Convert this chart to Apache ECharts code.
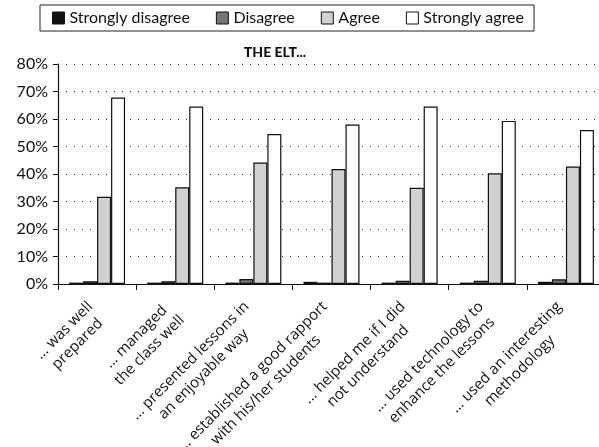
<!DOCTYPE html>
<html>
<head>
<meta charset="utf-8">
<script src="https://cdn.jsdelivr.net/npm/echarts@6/dist/echarts.min.js"></script>
<style>
  html, body { margin: 0; padding: 0; background: #fff; }
  #chart { width: 599px; height: 447px; }
</style>
</head>
<body>
<div id="chart"></div>
<script>
// statements about the ELT
const categories = [
    '... was well\nprepared',
    '... managed\nthe class well',
    '... presented lessons in\nan enjoyable way',
    '... established a good rapport\nwith his/her students',
    '... helped me if I did\nnot understand',
    '... used technology to\nenhance the lessons',
    '... used an interesting\nmethodology'
];

// percentages
const stronglyDisagree = [0.5, 0.5, 0.5, 0.8, 0.5, 0.5, 0.8];
const disagree = [1.0, 1.0, 1.8, 0.5, 1.2, 1.2, 1.7];
const agree = [31.7, 35.2, 44.2, 41.8, 35.0, 40.3, 42.7];
const stronglyAgree = [67.8, 64.5, 54.5, 58.0, 64.5, 59.3, 56.0];

const FONT = 'Lato';
const LABEL_FONT = 'Open Sans';

let myChart = echarts.init(document.getElementById('chart'));

function bar(name, data, color) {
    return {
        name: name,
        type: 'bar',
        data: data,
        barWidth: 14,
        barGap: '0%',
        itemStyle: {
            color: color,
            borderColor: '#111',
            borderWidth: 1.2
        }
    };
}

let option = {
    animation: false,
    backgroundColor: '#fff',
    title: {
        text: 'THE ELT...',
        left: 270,
        textAlign: 'center',
        top: 40,
        textStyle: {
            fontFamily: FONT,
            fontWeight: 900,
            fontSize: 14,
            color: '#111'
        }
    },
    legend: {
        left: 40,
        top: 5,
        padding: [5, 10, 5, 12],
        itemGap: 26,
        itemWidth: 12,
        itemHeight: 12,
        icon: 'rect',
        borderColor: '#222',
        borderWidth: 1,
        textStyle: {
            fontFamily: FONT,
            fontSize: 16,
            color: '#111'
        },
        itemStyle: {
            borderColor: '#111',
            borderWidth: 1
        }
    },
    grid: {
        left: 58,
        right: -6,
        top: 64,
        bottom: 163,
        containLabel: false,
        outerBoundsMode: 'none'
    },
    xAxis: {
        type: 'category',
        data: categories,
        axisLine: { lineStyle: { color: '#111', width: 1.2 } },
        axisTick: { show: true, length: 6, lineStyle: { color: '#111' } },
        axisLabel: {
            rotate: 45,
            interval: 0,
            margin: 27,
            color: '#111',
            formatter: function (v) {
                return v.split('\n').map(function (s) { return '{c|' + s + '}'; }).join('\n');
            },
            rich: {
                c: { align: 'center', fontFamily: LABEL_FONT, fontSize: 15, lineHeight: 19, color: '#111' }
            }
        }
    },
    yAxis: {
        type: 'value',
        min: 0,
        max: 80,
        interval: 10,
        axisLine: { show: true, lineStyle: { color: '#111', width: 1.2 } },
        axisTick: { show: true, length: 5, lineStyle: { color: '#111' } },
        axisLabel: {
            formatter: '{value}%',
            fontFamily: FONT,
            fontSize: 16,
            color: '#111',
            margin: 10
        },
        splitLine: {
            lineStyle: { color: '#333', type: [1, 7], width: 1 }
        }
    },
    series: [
        bar('Strongly disagree', stronglyDisagree, '#111'),
        bar('Disagree', disagree, '#767676'),
        bar('Agree', agree, '#d1d1d1'),
        bar('Strongly agree', stronglyAgree, '#ffffff')
    ]
};
myChart.setOption(option);
</script>
</body>
</html>
